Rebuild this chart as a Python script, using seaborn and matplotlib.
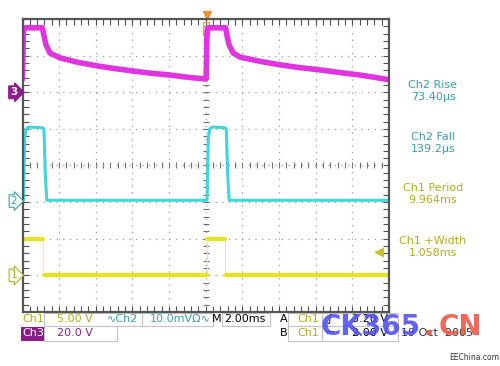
"""Oscilloscope capture (Tek-style) redrawn with seaborn/matplotlib."""

import matplotlib

matplotlib.use("Agg")
import matplotlib.pyplot as plt  # noqa: E402
import matplotlib.transforms as mtransforms  # noqa: E402
import pandas as pd  # noqa: E402
import seaborn as sns  # noqa: E402
from matplotlib.patches import Rectangle  # noqa: E402
from matplotlib.ticker import MultipleLocator  # noqa: E402

# time in ms (2 ms/div, 10 div), level in graticule divisions (-4..4)
CH3_T = [0.0, 0.05, 0.1, 1.08, 1.17, 1.28, 1.5, 2.05, 3.0, 4.07, 5.0, 6.03, 7.0, 8.05, 9.0, 10.02,
         10.07, 10.12, 11.08, 11.16, 11.27, 11.5, 11.87, 13.0, 14.05, 15.0, 16.23, 17.3, 18.41, 19.2, 20.0]
CH3_V = [2.36, 3.7, 3.76, 3.76, 3.55, 3.3, 3.07, 2.94, 2.82, 2.72, 2.65, 2.58, 2.52, 2.47, 2.41, 2.36,
         3.7, 3.76, 3.76, 3.55, 3.3, 3.07, 2.96, 2.84, 2.75, 2.68, 2.61, 2.54, 2.47, 2.41, 2.34]

CH2_T = [0.0, 0.05, 0.12, 0.2, 0.35, 1.1, 1.17, 1.25, 1.33, 10.02, 10.07, 10.14, 10.22, 10.37,
         11.05, 11.12, 11.2, 11.28, 20.0]
CH2_V = [-0.95, -0.95, 0.75, 1.0, 1.05, 1.03, 1.0, -0.3, -0.95, -0.95, -0.95, 0.75, 1.0, 1.05,
         1.03, 1.0, -0.3, -0.95, -0.95]

# Ch1 logic-level runs (start, end, level) and the faint edges between them
CH1_START = [0.0, 1.17, 10.07, 11.1]
CH1_END = [1.12, 10.07, 11.05, 20.0]
CH1_LEVEL = [-2.0, -3.0, -2.0, -3.0]
CH1_EDGE_T = [1.14, 10.07, 11.07]

MEAS_LABELS = ["Ch2 Rise", "Ch2 Fall", "Ch1 Period", "Ch1 +Width"]
MEAS_VALUES = ["73.40\u00b5s", "139.2\u00b5s", "9.964ms", "1.058ms"]

MAGENTA, CYAN, YELLOW = "#e034e0", "#3fd6de", "#e8e41c"
TEAL_TXT, OLIVE_TXT, PURPLE = "#3a9ea8", "#b2ac20", "#8c1c8c"

sns.set_theme(style="white")
plt.rcParams["font.family"] = ["DejaVu Sans"]

W, H = 500, 366
L, R, T, B = 22.5, 389, 19, 312
fig = plt.figure(figsize=(W / 100, H / 100), dpi=100, facecolor="white")


def fx(x):
    return x / W


def fy(y):
    return 1 - y / H


rect = [fx(L), fy(B), (R - L) / W, (B - T) / H]

# centre cross with tick marks (drawn underneath the traces)
axc = fig.add_axes(rect, zorder=0)
axc.set(xlim=(0, 20), ylim=(-4, 4))
axc.patch.set_alpha(0)
for side in ("top", "right"):
    axc.spines[side].set_visible(False)
axc.spines["left"].set_position(("data", 10))
axc.spines["bottom"].set_position(("data", 0))
axc.spines["left"].set_color("none")
axc.spines["bottom"].set_color("none")
axc.xaxis.set_major_locator(MultipleLocator(2))
axc.xaxis.set_minor_locator(MultipleLocator(0.4))
axc.yaxis.set_major_locator(MultipleLocator(1))
axc.yaxis.set_minor_locator(MultipleLocator(0.2))
axc.tick_params(which="both", direction="inout", length=5, width=0.8, color="#707070",
                labelbottom=False, labelleft=False, bottom=True, left=True)

ax = fig.add_axes(rect, zorder=1)
ax.patch.set_alpha(0)
ax.set(xlim=(0, 20), ylim=(-4, 4))
ax.xaxis.set_major_locator(MultipleLocator(2))
ax.xaxis.set_minor_locator(MultipleLocator(0.4))
ax.yaxis.set_major_locator(MultipleLocator(1))
ax.yaxis.set_minor_locator(MultipleLocator(0.2))
ax.grid(True, which="major", color="#9c9c9c", linestyle=(0, (1, 4.3)), linewidth=0.9)
ax.tick_params(which="both", direction="in", length=4, width=0.8, color="#505050",
               top=True, right=True, bottom=True, left=True,
               labelbottom=False, labelleft=False)
for sp in ax.spines.values():
    sp.set_color("#555555")
    sp.set_linewidth(1.6)

# traces
sns.lineplot(x=CH3_T, y=CH3_V, ax=ax, color=MAGENTA, lw=4.0, estimator=None, sort=False)
sns.lineplot(x=CH2_T, y=CH2_V, ax=ax, color=CYAN, lw=2.2, estimator=None, sort=False)

ch1 = pd.DataFrame({
    "t": CH1_START + CH1_END,
    "v": CH1_LEVEL + CH1_LEVEL,
    "seg": list(range(len(CH1_START))) * 2,
})
for t in CH1_EDGE_T:
    ax.plot([t, t], [-3.0, -2.0], color="#f0ec9a", lw=0.8)
sns.lineplot(data=ch1, x="t", y="v", units="seg", estimator=None, ax=ax, color=YELLOW, lw=3.0)
ax.set(xlabel="", ylabel="")

# trigger level marker (right edge) and trigger position marker (top)
ax.plot([19.45], [-2.36], marker="<", ms=6, color="#c8c024", clip_on=False)
ax.plot([10.07], [4.12], marker="v", ms=6, color="#f0902a", clip_on=False)
ax.add_patch(Rectangle((9.85, 3.55), 0.35, 0.36, fill=False, ec="#f0a050", lw=1.0))

# channel ground markers on the left
blend = mtransforms.blended_transform_factory(ax.transAxes, ax.transData)
ax.text(-0.024, 2, "3", transform=blend, ha="center", va="center", fontsize=7.5,
        color="white", fontweight="bold", clip_on=False,
        bbox=dict(boxstyle="rarrow,pad=0.12", fc=PURPLE, ec=PURPLE))
ax.text(-0.024, -0.97, "2", transform=blend, ha="center", va="center", fontsize=7.5,
        color=TEAL_TXT, clip_on=False,
        bbox=dict(boxstyle="rarrow,pad=0.12", fc="white", ec=TEAL_TXT, lw=0.8))
ax.text(-0.024, -3, "1", transform=blend, ha="center", va="center", fontsize=7.5,
        color=OLIVE_TXT, clip_on=False,
        bbox=dict(boxstyle="rarrow,pad=0.12", fc="white", ec=OLIVE_TXT, lw=0.8))

# measurement readouts
meas_y = [85, 137, 188, 241]
meas_col = [TEAL_TXT, TEAL_TXT, OLIVE_TXT, OLIVE_TXT]
for lab, val, y, c in zip(MEAS_LABELS, MEAS_VALUES, meas_y, meas_col):
    fig.text(fx(433), fy(y), lab, ha="center", va="center", fontsize=8, color=c)
    fig.text(fx(433), fy(y + 12), val, ha="center", va="center", fontsize=8, color=c)

# bottom status panel
for x0, x1, y0, y1 in [(44, 142, 313, 326), (142, 213, 313, 326), (222, 270, 313, 326),
                       (288, 322, 313, 326), (322, 398, 313, 326),
                       (44, 117, 326, 341), (288, 322, 326, 341), (322, 398, 326, 341)]:
    fig.add_artist(Rectangle((fx(x0), fy(y1)), (x1 - x0) / W, (y1 - y0) / H,
                             transform=fig.transFigure, fill=False, ec="#c4c4c4", lw=0.8))
fig.add_artist(Rectangle((fx(21), fy(341)), 23 / W, 14 / H, transform=fig.transFigure,
                         fc=PURPLE, ec="none"))

row1, row2 = fy(319.5), fy(333.5)
fs = 8
fig.text(fx(22), row1, "Ch1", fontsize=fs, color=OLIVE_TXT, va="center")
fig.text(fx(57), row1, "5.00 V", fontsize=fs, color=OLIVE_TXT, va="center")
fig.text(fx(107), row1, "\u223fCh2", fontsize=fs, color=TEAL_TXT, va="center")
fig.text(fx(150), row1, "10.0mV\u03a9\u223f", fontsize=fs, color=TEAL_TXT, va="center")
fig.text(fx(212), row1, "M", fontsize=fs, color="black", va="center")
fig.text(fx(224), row1, "2.00ms", fontsize=fs, color="black", va="center")
fig.text(fx(280), row1, "A", fontsize=fs, color="black", va="center")
fig.text(fx(297), row1, "Ch1", fontsize=fs, color=OLIVE_TXT, va="center")
fig.text(fx(326), row1, "\u222b", fontsize=fs, color="black", va="center")
fig.text(fx(352), row1, "3.20 V", fontsize=fs, color="black", va="center")

fig.text(fx(22), row2, "Ch3", fontsize=fs, color="white", va="center")
fig.text(fx(57), row2, "20.0 V", fontsize=fs, color=PURPLE, va="center")
fig.text(fx(280), row2, "B", fontsize=fs, color="black", va="center")
fig.text(fx(297), row2, "Ch1", fontsize=fs, color=OLIVE_TXT, va="center")
fig.text(fx(326), row2, "\u2310", fontsize=fs, color="black", va="center")
fig.text(fx(352), row2, "2.00 V", fontsize=fs, color="black", va="center")
fig.text(fx(401), row2, "19 Oct  2005", fontsize=fs, color="#333333", va="center")

# watermark (sits over the status text, as in the capture)
fig.text(fx(321), fy(327), "CK365", fontsize=20, fontweight="bold", color="#5252f2",
         alpha=0.9, va="center")
fig.text(fx(423), fy(327), ".", fontsize=20, fontweight="bold", color="#f05848",
         alpha=0.9, va="center")
fig.text(fx(439), fy(327), "CN", fontsize=20, fontweight="bold", color="#f05848",
         alpha=0.9, va="center")
fig.text(fx(449), fy(357), "EEChina.com", fontsize=5.5, color="#333333", va="center")

fig.savefig("out.png", dpi=100, facecolor="white")
